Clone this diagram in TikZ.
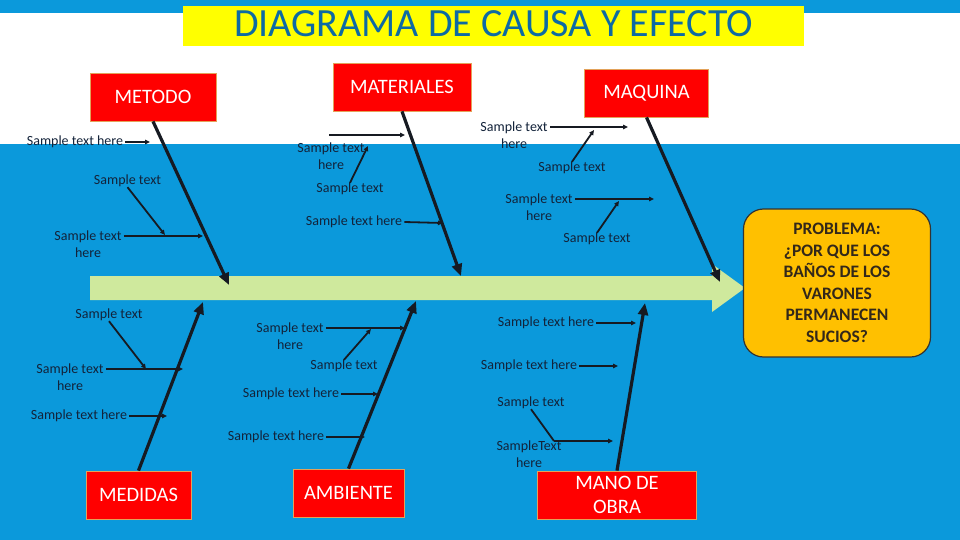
\documentclass[tikz,border=0pt]{standalone}
\usepackage{fontspec}
\setmainfont{Carlito}
\usetikzlibrary{arrows.meta}
\definecolor{bgblue}{HTML}{0B99DB}
\definecolor{titleyel}{HTML}{FFFF00}
\definecolor{titletext}{HTML}{0D6AA3}
\definecolor{spine}{HTML}{CFE99D}
\definecolor{catred}{HTML}{FF0000}
\definecolor{catborder}{HTML}{E3A25A}
\definecolor{probfill}{HTML}{FFC000}
\definecolor{probtext}{HTML}{33281A}
\definecolor{labeldark}{HTML}{13233A}
\definecolor{bonecol}{HTML}{161A22}
\begin{document}
\begin{tikzpicture}[x=1pt,y=-1pt,
  lbl/.style={font=\fontsize{14}{17}\selectfont, text=labeldark, inner ysep=0pt, inner xsep=2pt, align=center},
  cat/.style={draw=catborder, line width=0.8pt, fill=catred, text=white, font=\fontsize{20.5}{24}\selectfont, inner sep=0pt, minimum height=48pt, align=center},
  bone/.style={draw=bonecol, line width=3.2pt, -{Triangle[length=12pt,width=10pt]}},
  sub/.style={draw=bonecol, line width=1.8pt, -{Triangle[length=5pt,width=4.5pt]}}
]
\useasboundingbox (0,0) rectangle (960,540);
% background
\fill[white] (0,0) rectangle (960,540);
\fill[bgblue] (0,0) rectangle (960,13);
\fill[bgblue] (0,144) rectangle (960,540);
\node[fill=titleyel, minimum width=621pt, minimum height=40pt, inner sep=0pt,
      text=titletext, font=\fontsize{40}{42}\selectfont, text height=25.5pt, text depth=4pt]
      (title) at (493.5,26) {DIAGRAMA DE CAUSA Y EFECTO};
% spine
\fill[spine] (90,276) -- (712,276) -- (712,264) -- (745,288) -- (712,312) -- (712,300) -- (90,300) -- cycle;
% problem
\node[draw=black!80, line width=1.2pt, fill=probfill, rounded corners=20pt,
      minimum width=187pt, minimum height=148pt, inner sep=0pt, align=center,
      text=probtext, font=\bfseries\fontsize{17.5}{21.5}\selectfont]
      (prob) at (837,283) {PROBLEMA:\\¿POR QUE LOS\\BAÑOS DE LOS\\VARONES\\PERMANECEN\\SUCIOS?};
% categories
\node[cat, minimum width=126pt] (metodo) at (153,97) {METODO};
\node[cat, minimum width=138pt] (materiales) at (402,87) {MATERIALES};
\node[cat, minimum width=124pt] (maquina) at (646.5,93) {MAQUINA};
\node[cat, minimum width=105pt] (medidas) at (138.5,495) {MEDIDAS};
\node[cat, minimum width=111pt] (ambiente) at (348.5,493) {AMBIENTE};
\node[cat, minimum width=159pt] (mano) at (617,495) {MANO DE\\OBRA};
% bone tips
\coordinate (bmet) at (229,285);
\coordinate (bmat) at (461,276);
\coordinate (bmaq) at (720,282);
\coordinate (bmed) at (203,302);
\coordinate (bamb) at (416,301);
\coordinate (bman) at (645,303);
\draw[bone] (metodo.south) -- (bmet);
\draw[bone] (materiales.south) -- (bmat);
\draw[bone] (maquina.south) -- (bmaq);
\draw[bone] (medidas.north) -- (bmed);
\draw[bone] (ambiente.north) -- (bamb);
\draw[bone] (mano.north) -- (bman);
% METODO labels
\node[lbl] (m1) at (75,142) {Sample text here};
\node[lbl] (m2) at (127.5,181) {Sample text};
\node[lbl] (m3) at (88,244) {Sample text\\here};
\coordinate (tm1) at (150,142);
\coordinate (tm2) at (165,235);
\coordinate (tm3) at (203,236);
\draw[sub] (m1.east) -- (tm1);
\draw[sub] (m2.south) -- (tm2);
\draw[sub] (m3.east |- tm3) -- (tm3);
% MATERIALES labels
\node[lbl] (a1) at (331,156.5) {Sample text\\here};
\node[lbl] (a2) at (350,189) {Sample text};
\node[lbl] (a3) at (354,222) {Sample text here};
\coordinate (sa0) at (329,135);
\coordinate (ta0) at (405,135);
\coordinate (ta2) at (368,146);
\coordinate (ta3) at (443,223);
\draw[sub] (sa0) -- (ta0);
\draw[sub] (a2.north) -- (ta2);
\draw[sub] (a3.east) -- (ta3);
% MAQUINA labels
\node[lbl] (q1) at (514,135.5) {Sample text\\here};
\node[lbl] (q2) at (572,168) {Sample text};
\node[lbl] (q3) at (539,207.5) {Sample text\\here};
\node[lbl] (q4) at (597,239) {Sample text};
\coordinate (tq1) at (628,127);
\coordinate (tq2) at (594,130);
\coordinate (tq3) at (654,199);
\coordinate (tq4) at (619,201);
\draw[sub] (q1.east |- tq1) -- (tq1);
\draw[sub] (q2.north) -- (tq2);
\draw[sub] (q3.east |- tq3) -- (tq3);
\draw[sub] (q4.north) -- (tq4);
% MEDIDAS labels
\node[lbl] (d1) at (109,315) {Sample text};
\node[lbl] (d2) at (70,377.5) {Sample text\\here};
\node[lbl] (d3) at (79,416) {Sample text here};
\coordinate (td1) at (146,369);
\coordinate (td2) at (183,369);
\coordinate (td3) at (167,416);
\draw[sub] (d1.south) -- (td1);
\draw[sub] (d2.east |- td2) -- (td2);
\draw[sub] (d3.east) -- (td3);
% AMBIENTE labels
\node[lbl] (b1) at (290,336) {Sample text\\here};
\node[lbl] (b2) at (344,366) {Sample text};
\node[lbl] (b3) at (291,394) {Sample text here};
\node[lbl] (b4) at (276,437) {Sample text here};
\coordinate (tb1) at (405,328);
\coordinate (tb2) at (371,329);
\coordinate (tb3) at (378,394);
\coordinate (tb4) at (365,437);
\draw[sub] (b1.east |- tb1) -- (tb1);
\draw[sub] (b2.north) -- (tb2);
\draw[sub] (b3.east) -- (tb3);
\draw[sub] (b4.east) -- (tb4);
% MANO DE OBRA labels
\node[lbl] (o1) at (546,323) {Sample text here};
\node[lbl] (o2) at (529,366) {Sample text here};
\node[lbl] (o3) at (531,403) {Sample text};
\node[lbl] (o4) at (529,454.5) {SampleText\\here};
\coordinate (to1) at (636,323);
\coordinate (to2) at (618,366);
\coordinate (so3) at (554,441);
\coordinate (to3) at (613,441);
\draw[sub] (o1.east) -- (to1);
\draw[sub] (o2.east) -- (to2);
\draw[draw=bonecol, line width=1.8pt] (o3.south) -- (so3);
\draw[sub] (so3) -- (to3);
\end{tikzpicture}
\end{document}
